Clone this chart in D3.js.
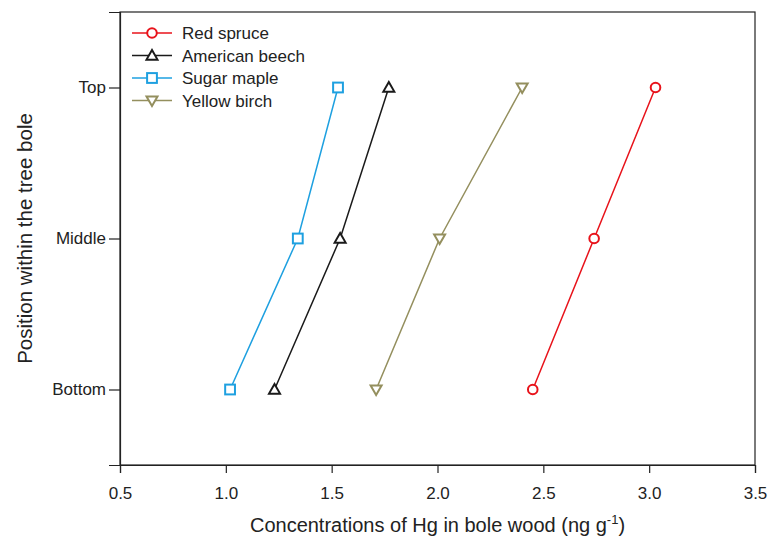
<!DOCTYPE html>
<html>
<head>
<meta charset="utf-8">
<script src="https://cdn.jsdelivr.net/npm/d3@7"></script>
<style>
  html, body { margin: 0; padding: 0; background: #fff; }
  svg { display: block; font-family: "Liberation Sans", Arial, sans-serif; }
</style>
</head>
<body>
<svg id="chart" width="775" height="538"></svg>
<script>
// ---- data ----
const positions = ["Bottom", "Middle", "Top"];
const seriesNames = ["Red spruce", "American beech", "Sugar maple", "Yellow birch"];
const redSpruce = [2.45, 2.74, 3.03];
const americanBeech = [1.23, 1.54, 1.77];
const sugarMaple = [1.02, 1.34, 1.53];
const yellowBirch = [1.71, 2.01, 2.40];
const xTicks = [0.5, 1.0, 1.5, 2.0, 2.5, 3.0, 3.5];

const seriesValues = [redSpruce, americanBeech, sugarMaple, yellowBirch];
const colors = ["#e8131b", "#1a1a1a", "#1ea0e0", "#948f5e"];
const symbols = ["circle", "triangleUp", "square", "triangleDown"];

const svg = d3.select("#chart");
const m = { left: 120, right: 20, top: 12, bottom: 73 };
const W = 775, H = 538;
const x = d3.scaleLinear().domain([0.5, 3.5]).range([m.left, W - m.right]);
const y = d3.scaleLinear().domain([0.5, 3.5]).range([H - m.bottom, m.top]);
const FONT = "Liberation Sans, Arial, sans-serif";

// frame
svg.append("rect")
  .attr("x", m.left).attr("y", m.top)
  .attr("width", W - m.right - m.left).attr("height", H - m.bottom - m.top)
  .attr("fill", "none").attr("stroke", "#222").attr("stroke-width", 1.2);

// x axis
const xAxis = svg.append("g")
  .attr("transform", `translate(0,${H - m.bottom})`)
  .call(d3.axisBottom(x).tickValues(xTicks).tickFormat(d3.format(".1f")).tickSize(8).tickPadding(14));
xAxis.select(".domain").attr("stroke", "#222").attr("stroke-width", 1.2);
xAxis.selectAll(".tick line").attr("stroke", "#222").attr("stroke-width", 1.2);
xAxis.selectAll("text").attr("font-size", 17).attr("fill", "#222").attr("font-family", FONT);

// y axis
const yAxis = svg.append("g")
  .attr("transform", `translate(${m.left},0)`)
  .call(d3.axisLeft(y).tickValues([1, 2, 3]).tickFormat((d, i) => positions[i]).tickSize(11).tickPadding(3));
yAxis.select(".domain").attr("stroke", "#222").attr("stroke-width", 1.2);
yAxis.selectAll(".tick line").attr("stroke", "#222").attr("stroke-width", 1.2);
yAxis.selectAll("text").attr("font-size", 17).attr("fill", "#222").attr("font-family", FONT);

// axis titles
const xt = svg.append("text")
  .attr("x", (m.left + W - m.right) / 2).attr("y", 532)
  .attr("text-anchor", "middle").attr("font-size", 20).attr("fill", "#222");
xt.append("tspan").text("Concentrations of Hg in bole wood (ng g");
xt.append("tspan").attr("dy", -8).attr("font-size", 13).text("-1");
xt.append("tspan").attr("dy", 8).text(")");

svg.append("text")
  .attr("transform", `translate(32,${(m.top + H - m.bottom) / 2}) rotate(-90)`)
  .attr("text-anchor", "middle").attr("font-size", 20.5).attr("fill", "#222")
  .text("Position within the tree bole");

// marker drawing
function drawMarker(g, type, cx, cy, color) {
  const sw = 2;
  if (type === "circle") {
    g.append("circle").attr("cx", cx).attr("cy", cy).attr("r", 4.8)
      .attr("fill", "#fff").attr("stroke", color).attr("stroke-width", sw);
  } else if (type === "square") {
    g.append("rect").attr("x", cx - 4.9).attr("y", cy - 4.9).attr("width", 9.8).attr("height", 9.8)
      .attr("fill", "#fff").attr("stroke", color).attr("stroke-width", sw);
  } else if (type === "triangleUp") {
    const s = 5.5;
    g.append("path").attr("d", `M${cx},${cy - s} L${cx + s},${cy + s * 0.75} L${cx - s},${cy + s * 0.75} Z`)
      .attr("fill", "#fff").attr("stroke", color).attr("stroke-width", sw).attr("stroke-linejoin", "miter");
  } else {
    const s = 5.5;
    g.append("path").attr("d", `M${cx},${cy + s} L${cx + s},${cy - s * 0.75} L${cx - s},${cy - s * 0.75} Z`)
      .attr("fill", "#fff").attr("stroke", color).attr("stroke-width", sw).attr("stroke-linejoin", "miter");
  }
}

// series
const line = d3.line().x(d => x(d[0])).y(d => y(d[1]));
seriesValues.forEach((vals, si) => {
  const pts = vals.map((v, i) => [v, i + 1]);
  const g = svg.append("g");
  g.append("path").attr("d", line(pts)).attr("fill", "none")
    .attr("stroke", colors[si]).attr("stroke-width", 1.5);
  pts.forEach(p => drawMarker(g, symbols[si], x(p[0]), y(p[1]), colors[si]));
});

// legend
const lg = svg.append("g");
seriesNames.forEach((name, i) => {
  const ly = 33 + i * 22.5;
  lg.append("line").attr("x1", 132).attr("x2", 172).attr("y1", ly).attr("y2", ly)
    .attr("stroke", colors[i]).attr("stroke-width", 1.5);
  drawMarker(lg, symbols[i], 152, ly, colors[i]);
  lg.append("text").attr("x", 182).attr("y", ly).attr("dy", "0.36em")
    .attr("font-size", 17).attr("fill", "#222").text(name);
});
</script>
</body>
</html>
